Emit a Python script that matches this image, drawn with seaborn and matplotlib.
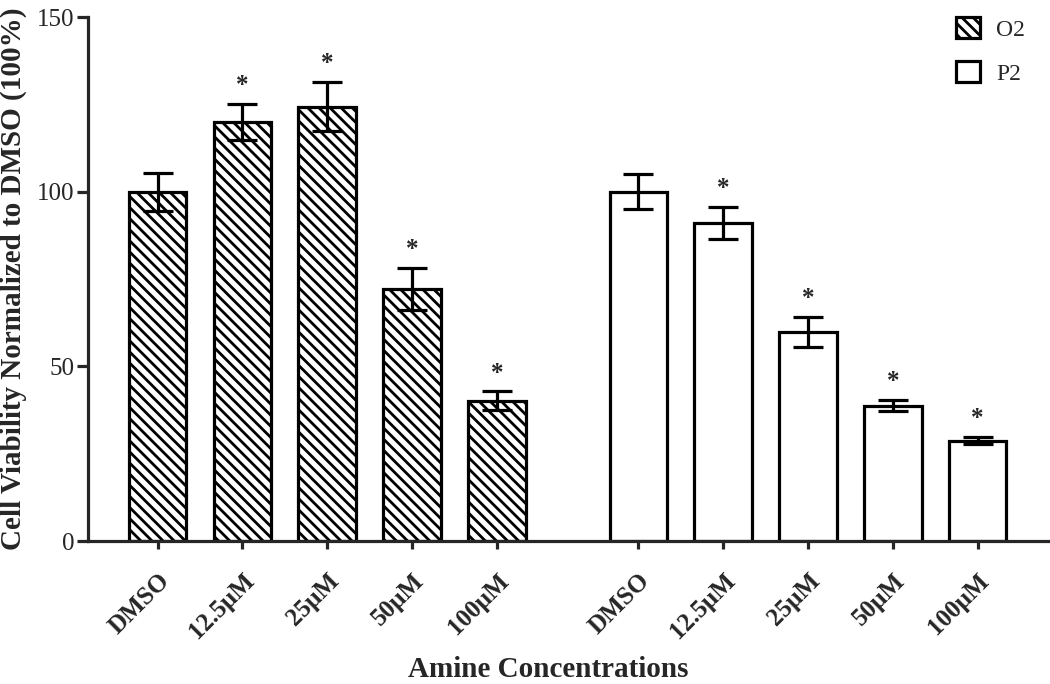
import numpy as np
import pandas as pd
import matplotlib
matplotlib.use('Agg')
import matplotlib.pyplot as plt
import seaborn as sns
from matplotlib.patches import Patch

# Datos
concentraciones = ['DMSO', '12.5µM', '25µM', '50µM', '100µM']
o2_media = [100, 120.0, 124.3, 72.1, 40.1]
o2_sem = [5.4, 5.1, 7.0, 6.0, 2.7]
o2_sig = [False, True, True, True, True]
p2_media = [100, 91.1, 59.9, 38.7, 28.7]
p2_sem = [5.1, 4.6, 4.3, 1.6, 1.0]
p2_sig = [False, True, True, True, True]
grupos = ['O2', 'P2']

sns.set_style('ticks')
plt.rcParams['font.family'] = ['Liberation Serif', 'DejaVu Serif']
plt.rcParams['hatch.linewidth'] = 2.0
plt.rcParams['axes.linewidth'] = 2.3

# posiciones: segundo grupo desplazado
base = np.arange(len(concentraciones))
gap = 5.67
df = pd.DataFrame({
    'pos': np.concatenate([base, base + gap]),
    'valor': o2_media + p2_media,
    'sem': o2_sem + p2_sem,
    'sig': o2_sig + p2_sig,
    'grupo': [grupos[0]] * 5 + [grupos[1]] * 5,
})

fig = plt.figure(figsize=(10.5, 6.84), dpi=100)
ax = fig.add_axes([88 / 1050, 1 - 541 / 684, (1048 - 88) / 1050, (541 - 17) / 684])

hatch = '\\\\\\'
for g in grupos:
    sub = df[df['grupo'] == g]
    n_prev = len(ax.patches)
    sns.barplot(data=sub, x='pos', y='valor', native_scale=True, width=0.68,
                color='white', saturation=1, edgecolor='black', linewidth=2.3,
                errorbar=None, ax=ax)
    if g == 'O2':
        for p in ax.patches[n_prev:]:
            p.set_hatch(hatch)

ax.errorbar(df['pos'], df['valor'], yerr=df['sem'], fmt='none', ecolor='black',
            elinewidth=2.3, capsize=11, capthick=2.3, zorder=5)

# asteriscos de significancia
for _, r in df[df['sig']].iterrows():
    ax.annotate('*', (r['pos'], r['valor'] + r['sem']), xytext=(0, 5),
                textcoords='offset points', ha='center', va='bottom',
                fontsize=18, fontweight='bold')

ax.set_ylim(0, 150)
ax.set_yticks([0, 50, 100, 150])
ax.set_xlim(-0.82, df['pos'].max() + 0.83)
ax.set_xticks(df['pos'])
ax.set_xticklabels(concentraciones * 2, rotation=45, ha='right',
                   rotation_mode='anchor', fontweight='bold')
ax.tick_params(axis='y', length=8, width=2.3, labelsize=18, pad=2)
ax.tick_params(axis='x', length=6, width=2.3, labelsize=18, pad=14)
sns.despine(ax=ax)

ax.set_ylabel('Cell Viability Normalized to DMSO (100%)', fontsize=21, fontweight='bold')
ax.yaxis.set_label_coords(-0.064, 0.5)
ax.set_xlabel('Amine Concentrations', fontsize=21, fontweight='bold')
ax.xaxis.set_label_coords(0.479, -0.246)
ax.xaxis.label.set_va('center')

handles = [Patch(facecolor='white', edgecolor='black', hatch=hatch, linewidth=2.3, label='O2'),
           Patch(facecolor='white', edgecolor='black', linewidth=2.3, label='P2')]
fig.legend(handles=handles, loc='upper left', bbox_to_anchor=(935 / 1050, 1 + 4 / 684),
           frameon=False, fontsize=17, handlelength=1.0, handleheight=1.0,
           handletextpad=0.7, labelspacing=0.85)

fig.savefig('out.png', dpi=100)
